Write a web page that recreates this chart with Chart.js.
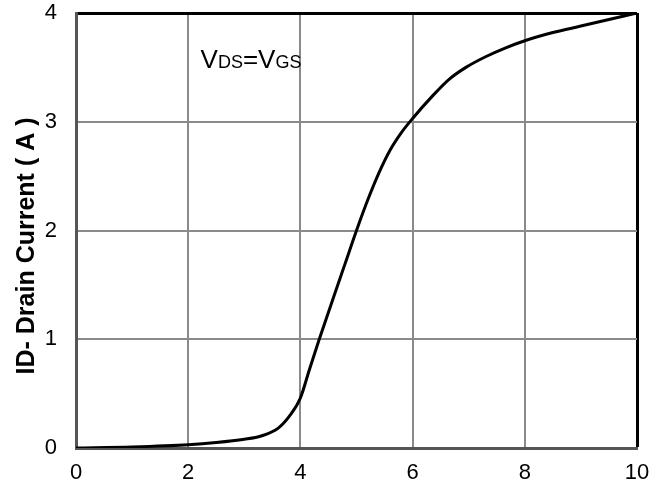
<!DOCTYPE html>
<html>
<head>
<meta charset="utf-8">
<script src="https://cdn.jsdelivr.net/npm/chart.js@4"></script>
<style>
    html, body { margin: 0; padding: 0; background: #fff; }
    #wrap { width: 667px; height: 488px; }
</style>
</head>
<body>
<div id="wrap"><canvas id="idChart" width="667" height="488"></canvas></div>
<script>
// Transfer curve
const vgs = [0, 1, 2, 2.5, 3, 3.3, 3.6, 3.8, 4.0, 4.16, 4.33, 4.6, 4.8, 5.0, 5.2, 5.4, 5.6, 5.8, 6.0, 6.36, 6.65, 6.95, 7.31, 7.66, 8, 8.5, 9, 9.5, 10];
const drainCurrent = [0, 0.01, 0.03, 0.05, 0.08, 0.11, 0.18, 0.29, 0.46, 0.72, 0.99, 1.4, 1.7, 2.0, 2.28, 2.53, 2.74, 2.9, 3.03, 3.24, 3.39, 3.5, 3.6, 3.68, 3.745, 3.82, 3.88, 3.94, 4.0];
const xTicks = [0, 2, 4, 6, 8, 10];
const yTicks = [0, 1, 2, 3, 4];
const yTitle = 'ID- Drain Current ( A )';

const tickFont = { family: '"Liberation Sans Narrow", "Liberation Sans", Arial, sans-serif', size: 22 };

// annotation "VDS=VGS" and the y title, drawn on top
const labelPlugin = {
    id: 'labels',
    afterDraw(chart) {
        const ctx = chart.ctx;
        const xs = chart.scales.x, ys = chart.scales.y;
        ctx.save();
        ctx.fillStyle = '#000';
        ctx.textBaseline = 'alphabetic';
        ctx.textAlign = 'left';
        let px = xs.getPixelForValue(2.22);
        const py = ys.getPixelForValue(3.49);
        const big = '26px "Liberation Sans Narrow", Arial, sans-serif';
        const small = '18px "Liberation Sans Narrow", Arial, sans-serif';
        [['V', big], ['DS', small], ['=', big], ['V', big], ['GS', small]].forEach(([t, f]) => {
            ctx.font = f;
            ctx.fillText(t, px, py);
            px += ctx.measureText(t).width;
        });

        // rotated axis title
        ctx.font = 'bold 25px "Liberation Sans", Arial, sans-serif';
        ctx.translate(27, 246);
        ctx.rotate(-Math.PI / 2);
        ctx.textAlign = 'center';
        ctx.textBaseline = 'middle';
        ctx.fillText(yTitle, 0, 0);
        ctx.restore();
    }
};

function edgeColor(max) {
    return ctx => ctx.tick && ctx.tick.value === max ? '#000' : '#8a8a8a';
}
function edgeWidth(max) {
    return ctx => ctx.tick && ctx.tick.value === max ? 3 : 2;
}

const chart = new Chart(document.getElementById('idChart').getContext('2d'), {
    type: 'line',
    data: {
        datasets: [{
            data: vgs.map((v, i) => ({ x: v, y: drainCurrent[i] })),
            borderColor: '#000',
            borderWidth: 3,
            pointRadius: 0,
            cubicInterpolationMode: 'monotone',
            fill: false
        }]
    },
    options: {
        responsive: false,
        animation: false,
        layout: { padding: { top: 13, right: 30, left: 0, bottom: 0 } },
        plugins: {
            legend: { display: false },
            tooltip: { enabled: false }
        },
        scales: {
            x: {
                type: 'linear',
                min: 0,
                max: 10,
                afterFit: s => { s.height = 40; s.paddingLeft = 0; s.paddingRight = 0; },
                afterBuildTicks: s => { s.ticks = xTicks.map(v => ({ value: v })); },
                grid: { color: edgeColor(10), lineWidth: edgeWidth(10), drawTicks: false },
                border: { display: true, color: '#555', width: 3 },
                ticks: { color: '#000', font: tickFont, padding: 12, maxRotation: 0 }
            },
            y: {
                type: 'linear',
                min: 0,
                max: 4,
                afterFit: s => { s.width = 76; s.paddingTop = 0; s.paddingBottom = 0; },
                afterBuildTicks: s => { s.ticks = yTicks.map(v => ({ value: v })); },
                grid: { color: edgeColor(4), lineWidth: edgeWidth(4), drawTicks: false },
                border: { display: true, color: '#555', width: 3 },
                ticks: { color: '#000', font: tickFont, padding: 19 }
            }
        }
    },
    plugins: [labelPlugin]
});
</script>
</body>
</html>
